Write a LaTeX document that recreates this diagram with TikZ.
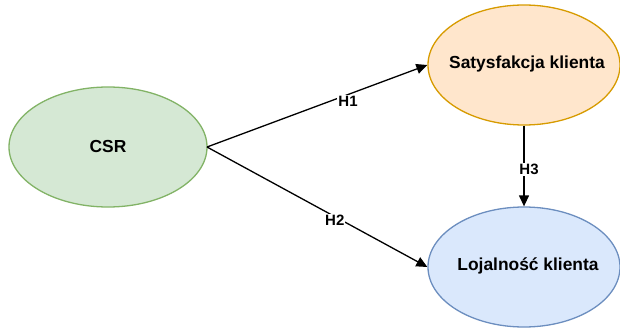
\documentclass[tikz,border=0pt]{standalone}
\usepackage{fontspec}
\setmainfont{Liberation Sans}
\usetikzlibrary{shapes.geometric,arrows.meta}
\definecolor{gfill}{HTML}{D5E8D4}\definecolor{gline}{HTML}{82B366}
\definecolor{ofill}{HTML}{FFE6CC}\definecolor{oline}{HTML}{D79B00}
\definecolor{bfill}{HTML}{DAE8FC}\definecolor{bline}{HTML}{6C8EBF}
\tikzset{
  construct/.style={ellipse, draw, line width=1.3pt, inner sep=0pt,
    font=\fontsize{17.4}{20}\selectfont\bfseries},
  link/.style={line width=1.3pt, -{Triangle[length=11pt,width=10pt]}},
  hyp/.style={fill=white, inner sep=1pt, font=\fontsize{15}{17}\selectfont\bfseries}
}
\begin{document}
\begin{tikzpicture}[x=1pt,y=-1pt]
\useasboundingbox (0,0) rectangle (620,331);
\node[construct, fill=gfill, draw=gline, minimum width=198pt, minimum height=120pt] (csr) at (108,147) {CSR};
\node[construct, fill=ofill, draw=oline, minimum width=192pt, minimum height=120pt] (sat) at (524,65) {};
\node[construct, fill=bfill, draw=bline, minimum width=192pt, minimum height=120pt] (loj) at (524,267) {};
\node[font=\fontsize{17.4}{20}\selectfont\bfseries] (sattxt) at (527,64) {Satysfakcja klienta};
\node[font=\fontsize{17.4}{20}\selectfont\bfseries] (lojtxt) at (528,266) {Lojalność klienta};
\coordinate (o) at (207,147);
\draw[link] (o) -- (sat.west) node[hyp, pos=0.64, yshift=-7pt] (h1) {H1};
\draw[link] (o) -- (loj.west) node[hyp, pos=0.58, yshift=-4pt] (h2) {H2};
\draw[link] (sat.south) -- (loj.north) node[hyp, pos=0.54, xshift=5pt] (h3) {H3};
\end{tikzpicture}
\end{document}
